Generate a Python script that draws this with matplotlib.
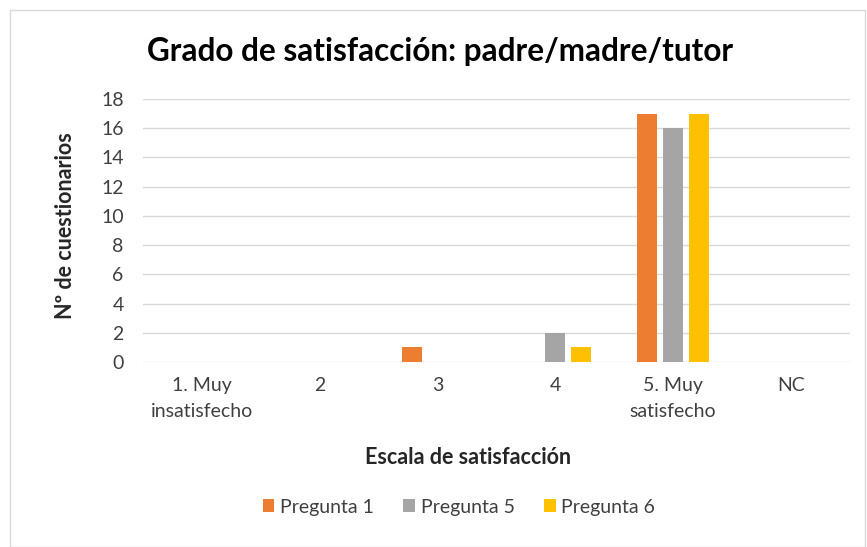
import numpy as np
import matplotlib
matplotlib.use("Agg")
import matplotlib.pyplot as plt
from matplotlib.patches import Rectangle

plt.rcParams['font.family'] = ['Lato', 'DejaVu Sans']

categorias = ["1. Muy\ninsatisfecho", "2", "3", "4", "5. Muy\nsatisfecho", "NC"]
series = ["Pregunta 1", "Pregunta 5", "Pregunta 6"]
pregunta_1 = [0, 0, 1, 0, 17, 0]
pregunta_5 = [0, 0, 0, 2, 16, 0]
pregunta_6 = [0, 0, 0, 1, 17, 0]
colores = ["#ED7D31", "#A5A5A5", "#FFC000"]

fig = plt.figure(figsize=(8.67, 5.47), dpi=100)
fig.patches.append(Rectangle((10 / 867, 0), 855 / 867, 1 - 10 / 547, transform=fig.transFigure,
                             fill=False, edgecolor="#D9D9D9", linewidth=1))
ax = fig.add_axes([0.165, 0.338, 0.815, 0.481])

x = np.arange(len(categorias))
paso = 0.22
ancho = 0.17
for i, (vals, nombre) in enumerate(zip([pregunta_1, pregunta_5, pregunta_6], series)):
    ax.bar(x + (i - 1) * paso, vals, width=ancho, color=colores[i], label=nombre, zorder=3)

ax.set_xlim(-0.5, len(categorias) - 0.5)
ax.set_ylim(0, 18)
ax.set_yticks(range(0, 19, 2))
ax.set_xticks(x)
ax.set_xticklabels(categorias, linespacing=1.6)
ax.grid(axis="y", color="#D9D9D9", linewidth=1, zorder=0)
for s in ax.spines.values():
    s.set_visible(False)
ax.tick_params(axis="both", length=0, labelsize=14, colors="#404040", pad=11)
ax.tick_params(axis="y", pad=14)

# etiquetas de ejes
fig.text(65 / 867, 1 - 226 / 547, "Nº de cuestionarios", rotation=90, ha="center", va="center",
         fontsize=15.5, fontweight="bold", color="#262626")
fig.text(468 / 867, 1 - 457 / 547, "Escala de satisfacción", ha="center", va="center",
         fontsize=15.5, fontweight="bold", color="#262626")
fig.text(0.508, 1 - 52 / 547, "Grado de satisfacción: padre/madre/tutor", ha="center", va="center",
         fontsize=22.7, fontweight="bold", color="#000000")

fig.legend(loc="center", bbox_to_anchor=(459 / 867, 1 - 507 / 547), ncol=3, frameon=False, fontsize=14,
           handlelength=0.6, handleheight=0.6, handletextpad=0.3, columnspacing=1.5,
           labelcolor="#404040")

fig.savefig("out.png", dpi=100)
